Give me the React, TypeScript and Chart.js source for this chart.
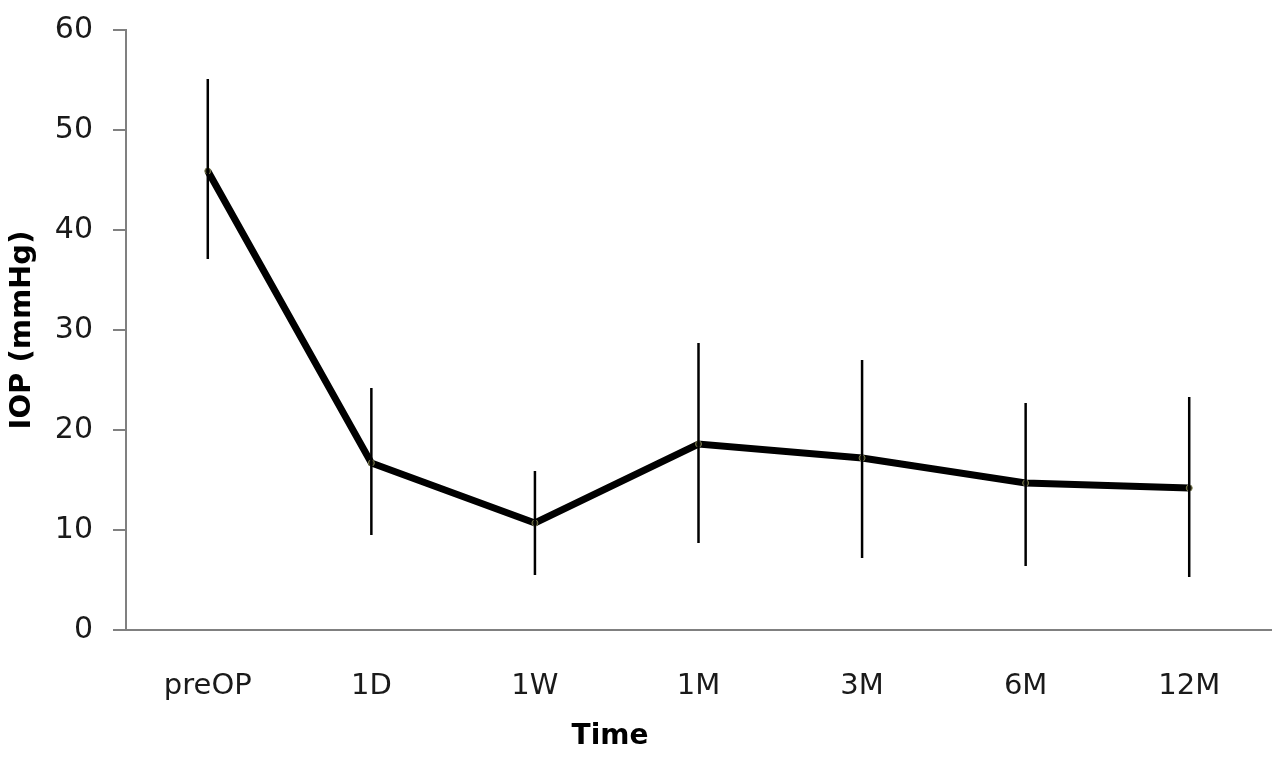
import React, { useEffect, useRef } from "react";
import { Chart, registerables } from "chart.js";

Chart.register(...registerables);

const categories = ["preOP", "1D", "1W", "1M", "3M", "6M", "12M"];
const meanIOP = [45.9, 16.7, 10.7, 18.6, 17.2, 14.7, 14.2];
const upperIOP = [55.1, 24.2, 15.9, 28.7, 27.0, 22.7, 23.3];
const lowerIOP = [37.1, 9.5, 5.5, 8.7, 7.2, 6.4, 5.3];
const yTicks = [0, 10, 20, 30, 40, 50, 60];
const xTitle = "Time";
const yTitle = "IOP (mmHg)";

const FONT = "'DejaVu Sans', Verdana, sans-serif";

const errorBarPlugin = {
  id: "errorBars",
  afterDatasetsDraw(chart: any) {
    const { ctx, scales } = chart;
    const xs = scales.x;
    const ys = scales.y;
    ctx.save();
    ctx.strokeStyle = "#000";
    ctx.lineWidth = 2.5;
    categories.forEach((_, i) => {
      const x = xs.getPixelForValue(i);
      ctx.beginPath();
      ctx.moveTo(x, ys.getPixelForValue(upperIOP[i]));
      ctx.lineTo(x, ys.getPixelForValue(lowerIOP[i]));
      ctx.stroke();
    });
    ctx.restore();
  },
};

const xTitlePlugin = {
  id: "xTitle",
  afterDraw(chart: any) {
    const { ctx } = chart;
    ctx.save();
    ctx.font = `bold 28px ${FONT}`;
    ctx.fillStyle = "#000";
    ctx.textAlign = "center";
    ctx.textBaseline = "middle";
    ctx.fillText(xTitle, 610, 737);
    ctx.restore();
  },
};

export default function App() {
  const ref = useRef<HTMLCanvasElement | null>(null);
  useEffect(() => {
    if (!ref.current) return;
    const chart = new Chart(ref.current, {
      type: "line",
      data: {
        labels: categories,
        datasets: [
          {
            data: meanIOP,
            borderColor: "#000",
            borderWidth: 7,
            borderJoinStyle: "miter",
            pointRadius: 3,
            pointBackgroundColor: "#2a2a16",
            pointBorderColor: "#7a7a50",
            pointBorderWidth: 1,
            tension: 0,
            fill: false,
          },
        ],
      },
      options: {
        animation: false,
        responsive: true,
        maintainAspectRatio: false,
        layout: { padding: { top: 30, right: 9, left: 0, bottom: 0 } },
        plugins: {
          legend: { display: false },
          tooltip: { enabled: false },
        },
        scales: {
          x: {
            type: "category",
            offset: true,
            grid: { display: false },
            border: { display: true, color: "#808080", width: 2 },
            ticks: {
              padding: 31,
              color: "#1a1a1a",
              font: { family: FONT, size: 29 },
              maxRotation: 0,
              autoSkip: false,
            },
            afterFit(scale: any) {
              scale.height = 130;
              scale.paddingLeft = 0;
              scale.paddingRight = 0;
            },
          },
          y: {
            min: 0,
            max: 60,
            afterBuildTicks(scale: any) {
              scale.ticks = yTicks.map((v) => ({ value: v }));
            },
            grid: {
              display: true,
              drawOnChartArea: false,
              drawTicks: true,
              tickLength: 13,
              color: "#808080",
              lineWidth: 2,
            },
            border: { display: true, color: "#808080", width: 2 },
            ticks: {
              padding: 20,
              color: "#1a1a1a",
              font: { family: FONT, size: 30 },
            },
            title: {
              display: true,
              text: yTitle,
              color: "#000",
              font: { family: FONT, size: 29, weight: "bold" },
              padding: { top: 5, bottom: 0 },
            },
            afterFit(scale: any) {
              scale.width = 126;
              scale.paddingTop = 0;
              scale.paddingBottom = 0;
            },
          },
        },
      },
      plugins: [errorBarPlugin, xTitlePlugin],
    });
    return () => chart.destroy();
  }, []);
  return (
    <div style={{ position: "absolute", left: 0, top: 0, width: 1280, height: 760, background: "#fff" }}>
      <canvas ref={ref} />
    </div>
  );
}
